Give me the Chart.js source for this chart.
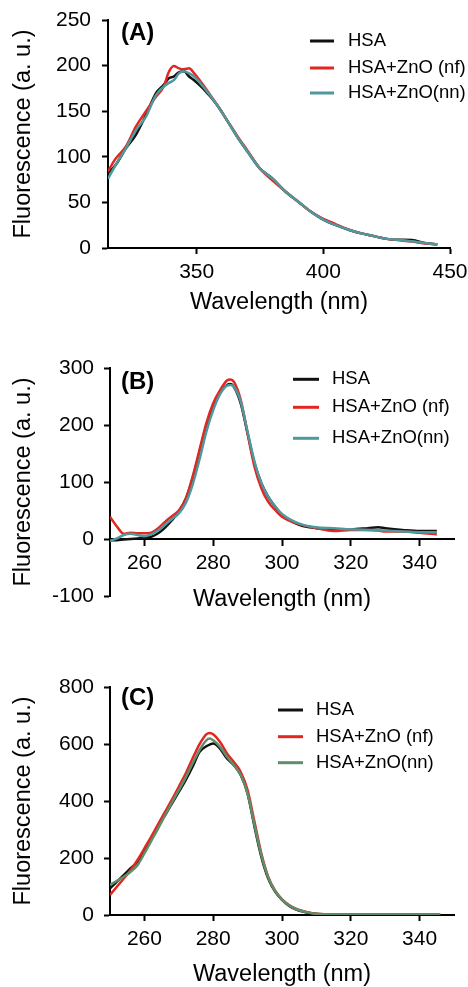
<!DOCTYPE html>
<html><head><meta charset="utf-8">
<script src="https://cdn.jsdelivr.net/npm/chart.js@4.4.1/dist/chart.umd.min.js"></script>
<style>
html,body{margin:0;padding:0;background:#fff;}
#wrap{position:relative;width:468px;height:987px;overflow:hidden;background:#fff;}
canvas{position:absolute;left:0;}
</style></head><body>
<div id="wrap">
<canvas id="cA" width="468" height="320" style="top:0px"></canvas>
<canvas id="cB" width="468" height="320" style="top:320px"></canvas>
<canvas id="cC" width="468" height="347" style="top:640px"></canvas>
</div>
<script>
// ---------- text ----------
const seriesNames = ['HSA', 'HSA+ZnO (nf)', 'HSA+ZnO(nn)'];
const panelLabels = ['(A)', '(B)', '(C)'];
const xTitle = 'Wavelength (nm)';
const yTitle = 'Fluorescence (a. u.)';

// ---------- panel A ----------
const wavelengthA = [315,318,322,326,330,334,337,339,341,343,345,347,349,352.5,358,362,366,370,375,380,385,390,395,400,405,410,415,420,425,430,435,440,445];
const hsaA = [82,91,109,124,146,170,179,186,188,192.6,193.7,188,184,175,157,140,122,106,87,76,62,51,40,31,25,20,16,13,10,9,8.8,5.5,4];
const nfA  = [84,98,111,133,150,166,177,193,199.6,197,196,197,191.5,179,157,140,123,107,87,74,62,51,40,32,26,20,16,13,10,8.5,7,5,4];
const nnA  = [76,91,109,129,144,168,177,181,184,191.5,193.7,191.5,188,177,157,140,122,106,87,76,62,51,40,31,25,20,16,13,10,9,7.3,5.5,4];
const xTicksA = [350, 400, 450];
const yTicksA = [0, 50, 100, 150, 200, 250];

// ---------- panel B ----------
const wavelengthB = [250,252,254,256,258,260,262,264,266,268,270,272,274,276,278,280,282,284,285,286,288,290,292,294,296,298,300,305,310,315,320,325,328,330,335,340,345];
const hsaB = [-2,-2,-1,0,1,2,4,10,20,33,48,70,106,152,198,233,257,270,272,267,238,185,133,98,74,57,42,25,19,17,17,19,20.5,19,16,14,14];
const nfB  = [39,22,9,11,10,10,11,19,30,40,50,70,109,156,203,238,261,278,280,276,244,185,127,89,65,51,39,26,19,14,16,16,15,13,13,11,8];
const nnB  = [-3.5,1,7,9,7,5,8,15,25,35,45,63,95,139,188,226,254,269,270,267,241,188,136,98,74,57,44,27,20.5,19,17,16,15.5,15,13,12,12];
const xTicksB = [260, 280, 300, 320, 340];
const yTicksB = [-100, 0, 100, 200, 300];

// ---------- panel C ----------
const wavelengthC = [250,252,254,256,258,260,262,264,266,268,270,272,274,276,278,279,280,282,284,286,288,290,292,294,296,298,300,302,304,306,308,310,315,320,330,340,346];
const hsaC = [93,117,140,164,187,228,269,310,350,391,432,473,520,572,592,598,602,584,549,526,491,426,310,204,128,82,53,33,20,12,7,3.5,1,0.5,0.5,0.5,0.5];
const nfC  = [70,99,128,158,193,234,275,319,362,405,450,496,549,599,634,639,634,607,567,537,502,438,327,216,134,85,55,35,22,14,8,4.5,1,0.5,0.5,0.5,0.5];
const nnC  = [105,120,134,152,175,216,260,304,350,394,438,482,532,578,613,619,613,590,555,526,491,426,315,210,132,84,54,34,21,13,7.5,4,1,0.5,0.5,0.5,0.5];
const xTicksC = [260, 280, 300, 320, 340];
const yTicksC = [0, 200, 400, 600, 800];

// ---------- styling ----------
const FONT = '"Liberation Sans", Arial, Helvetica, sans-serif';
const BLACK = '#111111', RED = '#e3261f', TEAL = '#4f999e', GREEN = '#5e8e6c';

const decorPlugin = {
  id: 'decor',
  afterDraw(chart, args, o) {
    const ctx = chart.ctx;
    ctx.save();
    ctx.fillStyle = '#000';
    ctx.textBaseline = 'middle';
    ctx.textAlign = 'left';
    ctx.font = 'bold 24px ' + FONT;
    ctx.fillText(o.label, o.labelX, o.labelY);
    ctx.font = '18.5px ' + FONT;
    chart.data.datasets.forEach((ds, i) => {
      const y = o.rows[i];
      ctx.strokeStyle = ds.borderColor;
      ctx.lineWidth = 3;
      ctx.beginPath();
      ctx.moveTo(o.lineX0, y);
      ctx.lineTo(o.lineX1, y);
      ctx.stroke();
      ctx.fillStyle = '#000';
      ctx.fillText(ds.label, o.textX, y);
    });
    ctx.restore();
  }
};

function pts(xs, ys) { return xs.map((x, i) => ({x: x, y: ys[i]})); }

function makePanel(id, p) {
  const datasets = p.series.map((s, i) => ({
    label: seriesNames[i],
    data: pts(p.wl, s),
    borderColor: p.colors[i],
    borderWidth: 2.5,
    pointRadius: 0,
    fill: false,
    tension: 0.4,
    cubicInterpolationMode: 'monotone',
    order: 3 - i
  }));
  const gridOpts = {display: true, drawOnChartArea: false, drawTicks: true, tickLength: 6, tickWidth: 2, tickColor: '#000', color: '#000'};
  new Chart(document.getElementById(id), {
    type: 'line',
    data: {datasets},
    plugins: [decorPlugin],
    options: {
      responsive: false,
      animation: false,
      devicePixelRatio: 1,
      events: [],
      layout: {padding: p.pad},
      plugins: {
        legend: {display: false},
        tooltip: {enabled: false},
        decor: p.decor
      },
      scales: {
        x: {
          type: 'linear',
          min: p.xMin, max: p.xMax,
          position: p.xPos,
          afterBuildTicks: s => { s.ticks = p.xTicks.map(v => ({value: v})); },
          afterFit: s => { s.height = p.xH; s.paddingLeft = 0; s.paddingRight = 0; },
          border: {display: true, color: '#000', width: 2},
          grid: gridOpts,
          ticks: {color: '#000', font: {family: FONT, size: 21}, padding: 6, maxRotation: 0, autoSkip: false},
          title: {display: true, text: xTitle, color: '#000', font: {family: FONT, size: 23.5}, padding: {top: 0, bottom: p.xTitlePadB}}
        },
        y: {
          type: 'linear',
          min: p.yTicks[0], max: p.yTicks[p.yTicks.length - 1],
          position: 'left',
          afterBuildTicks: s => { s.ticks = p.yTicks.map(v => ({value: v})); },
          afterFit: s => { s.width = p.yW; s.paddingTop = 0; s.paddingBottom = 0; },
          border: {display: true, color: '#000', width: 2},
          grid: gridOpts,
          ticks: {color: '#000', font: {family: FONT, size: 21}, padding: p.yTickPad, autoSkip: false},
          title: {display: true, text: yTitle, color: '#000', font: {family: FONT, size: 23.5}, padding: {top: 9, bottom: 0}}
        }
      }
    }
  });
}

makePanel('cA', {
  wl: wavelengthA, series: [hsaA, nfA, nnA], colors: [BLACK, RED, TEAL],
  xMin: 315, xMax: 450, xTicks: xTicksA, yTicks: yTicksA, xPos: 'bottom',
  pad: {left: 0, right: 18, top: 20, bottom: 0}, yW: 108, xH: 72, xTitlePadB: 3, yTickPad: 11,
  decor: {label: panelLabels[0], labelX: 121, labelY: 33.5, lineX0: 310, lineX1: 334, textX: 348, rows: [41, 68, 93]}
});

makePanel('cB', {
  wl: wavelengthB, series: [hsaB, nfB, nnB], colors: [BLACK, RED, TEAL],
  xMin: 250, xMax: 350, xTicks: xTicksB, yTicks: yTicksB, xPos: {y: 0},
  pad: {left: 0, right: 14, top: 48, bottom: 44}, yW: 110, xH: 75, xTitlePadB: 0, yTickPad: 10,
  decor: {label: panelLabels[1], labelX: 121, labelY: 62, lineX0: 293, lineX1: 319, textX: 332, rows: [59.3, 87.3, 118.3]}
});

makePanel('cC', {
  wl: wavelengthC, series: [hsaC, nfC, nnC], colors: [BLACK, RED, GREEN],
  xMin: 250, xMax: 350, xTicks: xTicksC, yTicks: yTicksC, xPos: 'bottom',
  pad: {left: 0, right: 14, top: 47, bottom: 0}, yW: 110, xH: 72, xTitlePadB: -2, yTickPad: 10,
  decor: {label: panelLabels[2], labelX: 121, labelY: 58, lineX0: 278, lineX1: 303, textX: 316, rows: [70, 96.7, 122.7]}
});
</script>
</body></html>
